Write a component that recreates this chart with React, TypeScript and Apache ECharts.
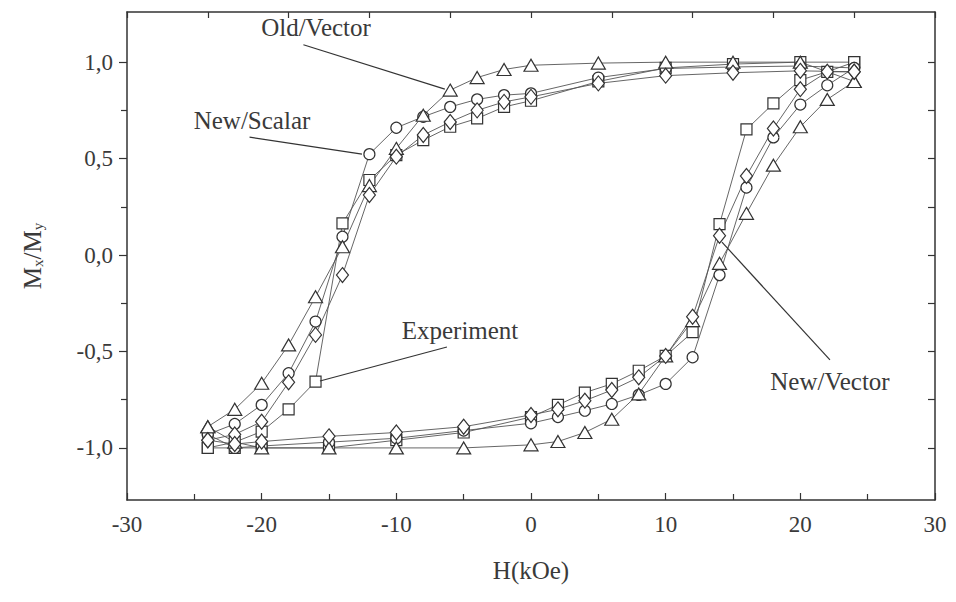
import React, { useEffect, useRef } from "react";
import * as echarts from "echarts";

// Field values (kOe) for the two branches of each hysteresis loop
const hDesc = [24, 20, 15, 10, 5, 0, -2, -4, -6, -8, -10, -12, -14, -16, -18, -20, -22, -24];
const hAsc = [-24, -22, -20, -15, -10, -5, 0, 2, 4, 6, 8, 10, 12, 14, 16, 18, 20, 22, 24];

// Experiment (squares)
const expDesc = [1.0, 1.0, 0.99, 0.97, 0.9, 0.8, 0.768, 0.708, 0.665, 0.596, 0.518, 0.389, 0.164, -0.656, -0.8, -0.915, -0.97, -1.0];
const expAsc = [-1.0, -1.0, -1.0, -1.0, -0.96, -0.92, -0.84, -0.777, -0.713, -0.668, -0.6, -0.523, -0.4, 0.16, 0.651, 0.786, 0.907, 0.95, 1.0];

// New/Scalar (circles)
const nsDesc = [0.97, 0.98, 0.975, 0.967, 0.92, 0.838, 0.829, 0.807, 0.768, 0.717, 0.66, 0.523, 0.095, -0.345, -0.613, -0.777, -0.876, -0.93];
const nsAsc = [-0.93, -1.0, -0.99, -0.97, -0.95, -0.91, -0.872, -0.84, -0.807, -0.772, -0.725, -0.668, -0.53, -0.104, 0.35, 0.61, 0.78, 0.88, 0.97];

// Old/Vector (triangles)
const ovDesc = [0.9, 1.0, 1.0, 1.0, 0.995, 0.984, 0.962, 0.92, 0.855, 0.725, 0.553, 0.36, 0.043, -0.216, -0.466, -0.665, -0.8, -0.89];
const ovAsc = [-0.89, -0.97, -1.0, -1.0, -1.0, -1.0, -0.984, -0.967, -0.92, -0.851, -0.72, -0.523, -0.34, -0.043, 0.216, 0.466, 0.665, 0.807, 0.9];

// New/Vector (diamonds)
const nvDesc = [0.95, 0.955, 0.945, 0.93, 0.89, 0.82, 0.794, 0.75, 0.69, 0.622, 0.51, 0.311, -0.104, -0.414, -0.66, -0.864, -0.93, -0.96];
const nvAsc = [-0.96, -0.98, -0.967, -0.94, -0.92, -0.89, -0.829, -0.8, -0.755, -0.7, -0.634, -0.523, -0.32, 0.1, 0.41, 0.656, 0.86, 0.95, 0.95];

const yMajor = [-1, -0.5, 0, 0.5, 1];
const yMinor = [-0.75, -0.25, 0.25, 0.75];
const yRight = [-1, -0.75, -0.5, -0.25, 0, 0.25, 0.5, 0.75, 1];

// Annotation leader lines (data coordinates: [H, M])
const leaders: { name: string; from: [number, number]; to: [number, number] }[] = [
  { name: "Old/Vector", from: [-16.9, 1.09], to: [-6.4, 0.86] },
  { name: "New/Scalar", from: [-20.9, 0.611], to: [-12.55, 0.523] },
  { name: "Experiment", from: [-6.24, -0.477], to: [-15.67, -0.653] },
  { name: "New/Vector", from: [14.18, 0.067], to: [22.2, -0.544] },
];

const FONT = '"Liberation Serif", "Times New Roman", "DejaVu Serif", serif';
const INK = "#3a3a3a";

function loop(desc: number[], asc: number[]) {
  const pts: number[][] = [];
  hDesc.forEach((h, i) => pts.push([h, desc[i]]));
  hAsc.forEach((h, i) => pts.push([h, asc[i]]));
  return pts;
}

export default function App() {
  const ref = useRef<HTMLDivElement>(null);
  useEffect(() => {
    if (!ref.current) return;
    const chart = echarts.init(ref.current, null, { renderer: "svg" });
    const fmt = (v: number) => v.toFixed(1).replace(".", ",");
    const markerStyle = { color: "#ffffff", borderColor: "#333", borderWidth: 1.2 };
    const lineStyle = { color: "#555", width: 0.9 };
    const mk = (name: string, data: number[][], symbol: string, size: any, leaderIdx: number) => ({
      name,
      type: "line",
      data,
      symbol,
      symbolSize: size,
      showAllSymbol: true,
      lineStyle,
      itemStyle: markerStyle,
      z: 3,
      markLine: {
        silent: true,
        symbol: ["none", "none"],
        label: { show: false },
        lineStyle: { color: "#333", width: 1.2, type: "solid" },
        data: [[{ coord: leaders[leaderIdx].from }, { coord: leaders[leaderIdx].to }]],
      },
    });
    chart.setOption({
      animation: false,
      backgroundColor: "#ffffff",
      grid: { left: 127, right: 21, top: 12, bottom: 102 },
      xAxis: [
        {
          type: "value",
          position: "bottom",
          min: -30,
          max: 30,
          interval: 10,
          name: "H(kOe)",
          nameLocation: "middle",
          nameGap: 58,
          nameTextStyle: { fontFamily: FONT, fontSize: 25, color: INK },
          axisLine: { show: true, onZero: false, lineStyle: { color: "#333", width: 1.5 } },
          axisTick: { show: true, inside: true, length: 7, lineStyle: { color: "#333", width: 1.2 } },
          minorTick: { show: true, splitNumber: 2, length: 6, lineStyle: { color: "#333", width: 1.2 } },
          axisLabel: { fontFamily: FONT, fontSize: 23, color: INK, margin: 13 },
          splitLine: { show: false },
        },
        {
          type: "value",
          position: "top",
          min: -30,
          max: 30,
          interval: 6,
          axisLine: { show: true, onZero: false, lineStyle: { color: "#333", width: 1.5 } },
          axisTick: { show: true, inside: true, length: 6, lineStyle: { color: "#333", width: 1.2 } },
          axisLabel: { show: false },
          splitLine: { show: false },
        },
      ],
      yAxis: [
        {
          type: "value",
          position: "left",
          min: -1.27,
          max: 1.26,
          name: "{m|M}{s|x}{m|/M}{s|y}",
          nameLocation: "middle",
          nameGap: 80,
          nameTextStyle: {
            fontFamily: FONT,
            color: INK,
            rich: {
              m: { fontFamily: FONT, fontSize: 25, color: INK, lineHeight: 30 },
              s: { fontFamily: FONT, fontSize: 15, color: INK, lineHeight: 30, padding: [12, 0, 0, 0] },
            },
          },
          axisLine: { show: true, onZero: false, lineStyle: { color: "#333", width: 1.5 } },
          axisTick: { show: true, inside: false, length: 8, customValues: yMajor, lineStyle: { color: "#333", width: 1.2 } },
          axisLabel: { fontFamily: FONT, fontSize: 23, color: INK, margin: 14, customValues: yMajor, formatter: fmt },
          splitLine: { show: false },
        },
        {
          type: "value",
          position: "right",
          min: -1.27,
          max: 1.26,
          axisLine: { show: true, onZero: false, lineStyle: { color: "#333", width: 1.5 } },
          axisTick: { show: true, inside: true, length: 7, customValues: yRight, lineStyle: { color: "#333", width: 1.2 } },
          axisLabel: { show: false, customValues: yRight },
          splitLine: { show: false },
        },
        {
          type: "value",
          position: "left",
          min: -1.27,
          max: 1.26,
          axisLine: { show: false, onZero: false },
          axisTick: { show: true, inside: false, length: 6, customValues: yMinor, lineStyle: { color: "#333", width: 1.2 } },
          axisLabel: { show: false, customValues: yMinor },
          splitLine: { show: false },
        },
      ],
      series: [
        mk("Experiment", loop(expDesc, expAsc), "rect", 11, 2),
        mk("New/Scalar", loop(nsDesc, nsAsc), "circle", 11, 1),
        mk("Old/Vector", loop(ovDesc, ovAsc), "triangle", [14, 12], 0),
        mk("New/Vector", loop(nvDesc, nvAsc), "diamond", [12, 15], 3),
      ],
      graphic: [
        { type: "text", x: 316, y: 27, style: { text: "Old/Vector", fontFamily: FONT, fontSize: 25, fill: INK, align: "center", verticalAlign: "middle" } },
        { type: "text", x: 252, y: 120, style: { text: "New/Scalar", fontFamily: FONT, fontSize: 25, fill: INK, align: "center", verticalAlign: "middle" } },
        { type: "text", x: 460, y: 330, style: { text: "Experiment", fontFamily: FONT, fontSize: 25, fill: INK, align: "center", verticalAlign: "middle" } },
        { type: "text", x: 830, y: 381, style: { text: "New/Vector", fontFamily: FONT, fontSize: 25, fill: INK, align: "center", verticalAlign: "middle" } },
      ],
    });
    return () => chart.dispose();
  }, []);
  return (
    <div
      ref={ref}
      style={{ position: "absolute", left: 0, top: 0, width: 956, height: 602, background: "#fff" }}
    />
  );
}
